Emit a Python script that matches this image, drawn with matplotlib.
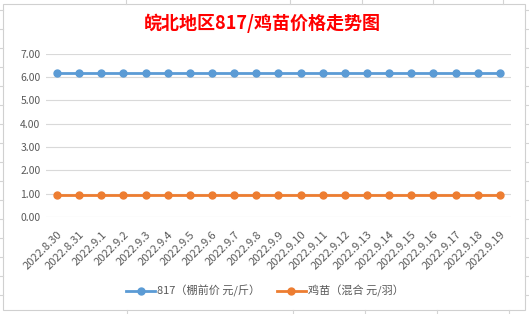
import matplotlib
matplotlib.use('Agg')
from matplotlib import pyplot as plt
from matplotlib.lines import Line2D

plt.rcParams['font.family'] = ['Noto Sans CJK SC', 'DejaVu Sans']

dates = ['2022.8.30', '2022.8.31', '2022.9.1', '2022.9.2', '2022.9.3', '2022.9.4',
         '2022.9.5', '2022.9.6', '2022.9.7', '2022.9.8', '2022.9.9', '2022.9.10',
         '2022.9.11', '2022.9.12', '2022.9.13', '2022.9.14', '2022.9.15', '2022.9.16',
         '2022.9.17', '2022.9.18', '2022.9.19']
price_817 = [6.17] * 21
price_chick = [0.95] * 21
yticks = [0, 1, 2, 3, 4, 5, 6, 7]

W, H = 529, 314
fig = plt.figure(figsize=(W / 100, H / 100), dpi=100)
fig.patch.set_facecolor('white')

# spreadsheet cell lines behind the chart
cell = '#D4D4D4'
for x in [126, 290, 362, 433, 503]:
    fig.add_artist(Line2D([x / W, x / W], [1, 1 - 4 / H], color=cell, lw=0.8))
for x in [127, 293, 365, 437, 509]:
    fig.add_artist(Line2D([x / W, x / W], [0, 1 - 310 / H], color=cell, lw=0.8))
for y in range(10, 314, 19):
    fig.add_artist(Line2D([0, 3 / W], [1 - y / H, 1 - y / H], color=cell, lw=0.8))
    fig.add_artist(Line2D([525 / W, 1], [1 - y / H, 1 - y / H], color=cell, lw=0.8))
# chart border
fig.add_artist(plt.Rectangle((3 / W, 1 - 310 / H), 522 / W, 306 / H, fill=False,
                             edgecolor='#D0D0D0', lw=0.8))

ax = fig.add_axes([46 / W, 1 - 217 / H, (511 - 46) / W, (217 - 53.7) / H])
x = list(range(len(dates)))
ax.plot(x, price_817, color='#5B9BD5', lw=2, marker='o', ms=5, label='817（棚前价 元/斤）')
ax.plot(x, price_chick, color='#ED7D31', lw=2, marker='o', ms=5, label='鸡苗（混合 元/羽）')

ax.set_xlim(-0.5, len(dates) - 0.5)
ax.set_ylim(0, 7)
ax.set_yticks(yticks)
ax.set_yticklabels(['%.2f' % v for v in yticks], fontsize=7.5, color='#595959')
ax.set_xticks(x)
ax.set_xticklabels(dates, rotation=45, ha='right', va='top', rotation_mode='anchor',
                   fontsize=8, color='#595959')
ax.tick_params(length=0, pad=4)
ax.tick_params(axis='x', pad=9)
ax.grid(axis='y', color='#D9D9D9', lw=0.8)
ax.set_axisbelow(True)
for s in ax.spines.values():
    s.set_visible(False)

fig.text(262 / W, 1 - 23 / H, '皖北地区817/鸡苗价格走势图', ha='center', va='center',
         fontsize=13, fontweight='bold', color='#FF0000')

fig.legend(loc='center', bbox_to_anchor=(265 / W, 1 - 291 / H), ncol=2, frameon=False,
           fontsize=8, labelcolor='#595959', handlelength=2.6, handletextpad=0.2,
           columnspacing=1.5)

fig.savefig('out.png', dpi=100)
